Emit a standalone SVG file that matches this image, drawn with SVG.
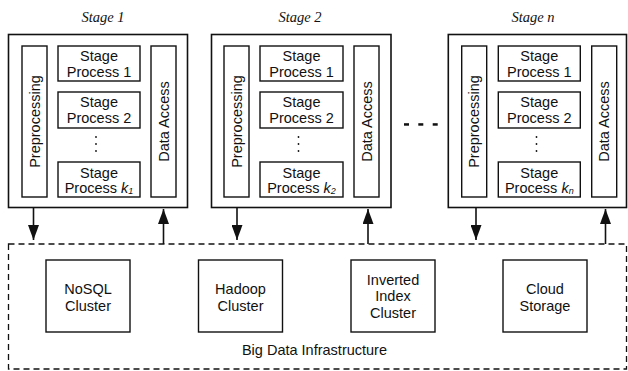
<svg xmlns="http://www.w3.org/2000/svg" width="628" height="371" viewBox="0 0 628 371">
<style>
.stage{fill:#fff;stroke:#111;stroke-width:1.6}
.box{fill:#fff;stroke:#111;stroke-width:1.4}
.t{font-family:"Liberation Sans",Arial,sans-serif;font-size:14.5px;fill:#111;text-anchor:middle}
.lbl{font-family:"Liberation Serif","Times New Roman",serif;font-style:italic;font-size:14.5px;fill:#111;text-anchor:middle}
.k{font-style:italic}
.sub{font-style:italic;font-size:9px}
.con{stroke:#111;stroke-width:1.6;fill:none}
.dot{fill:#111}
</style>
<defs>
<marker id="ah" markerWidth="15" markerHeight="11" refX="15" refY="5.5" orient="auto" markerUnits="userSpaceOnUse" viewBox="0 0 15 11">
<path d="M0,0 L15,5.5 L0,11 Z" fill="#111"/>
</marker>
</defs>

<text class="lbl" x="103" y="22">Stage 1</text>
<text class="lbl" x="300" y="22">Stage 2</text>
<text class="lbl" x="533" y="22">Stage n</text>

<g id="stage1">
<rect class="stage" x="8.5" y="34.5" width="179" height="173"/>
<g id="stage1-pre"><rect class="box" x="22" y="46" width="25" height="151"/>
<text class="t" transform="translate(34.5,121.5) rotate(-90)" y="5">Preprocessing</text></g>
<g id="stage1-p1"><rect class="box" x="58" y="46" width="82" height="35"/>
<text class="t" x="99" y="61">Stage</text><text class="t" x="99" y="76.5">Process 1</text></g>
<g id="stage1-p2"><rect class="box" x="58" y="92" width="82" height="36"/>
<text class="t" x="99" y="107">Stage</text><text class="t" x="99" y="122.5">Process 2</text></g>
<circle class="dot" cx="96" cy="137" r="0.9"/><circle class="dot" cx="96" cy="144" r="0.9"/><circle class="dot" cx="96" cy="151" r="0.9"/>
<g id="stage1-pk"><rect class="box" x="58" y="162" width="82" height="35"/>
<text class="t" x="99" y="177.5">Stage</text><text class="t" x="99" y="193">Process <tspan class="k">k</tspan><tspan class="sub" dy="1">1</tspan></text></g>
<g id="stage1-da"><rect class="box" x="151" y="46" width="25" height="151"/>
<text class="t" transform="translate(163.5,121.5) rotate(-90)" y="5">Data Access</text></g>
</g>

<g id="stage2">
<rect class="stage" x="211.5" y="34.5" width="179.5" height="173"/>
<g id="stage2-pre"><rect class="box" x="224" y="46" width="25" height="151"/>
<text class="t" transform="translate(236.5,121.5) rotate(-90)" y="5">Preprocessing</text></g>
<g id="stage2-p1"><rect class="box" x="260" y="46" width="83" height="35"/>
<text class="t" x="301.5" y="61">Stage</text><text class="t" x="301.5" y="76.5">Process 1</text></g>
<g id="stage2-p2"><rect class="box" x="260" y="92" width="83" height="36"/>
<text class="t" x="301.5" y="107">Stage</text><text class="t" x="301.5" y="122.5">Process 2</text></g>
<circle class="dot" cx="298.5" cy="137" r="0.9"/><circle class="dot" cx="298.5" cy="144" r="0.9"/><circle class="dot" cx="298.5" cy="151" r="0.9"/>
<g id="stage2-pk"><rect class="box" x="260" y="162" width="83" height="35"/>
<text class="t" x="301.5" y="177.5">Stage</text><text class="t" x="301.5" y="193">Process <tspan class="k">k</tspan><tspan class="sub" dy="1">2</tspan></text></g>
<g id="stage2-da"><rect class="box" x="354" y="46" width="25" height="151"/>
<text class="t" transform="translate(366.5,121.5) rotate(-90)" y="5">Data Access</text></g>
</g>

<g id="ellipsis">
<rect class="dot" x="404" y="123.2" width="5" height="2.5"/>
<rect class="dot" x="418.3" y="123.2" width="5" height="2.5"/>
<rect class="dot" x="432.7" y="123.2" width="5" height="2.5"/>
</g>

<g id="stagen">
<rect class="stage" x="448.3" y="34.5" width="178.2" height="173"/>
<g id="stagen-pre"><rect class="box" x="461.7" y="46" width="25" height="151"/>
<text class="t" transform="translate(474.2,121.5) rotate(-90)" y="5">Preprocessing</text></g>
<g id="stagen-p1"><rect class="box" x="498.3" y="46" width="82" height="35"/>
<text class="t" x="539.3" y="61">Stage</text><text class="t" x="539.3" y="76.5">Process 1</text></g>
<g id="stagen-p2"><rect class="box" x="498.3" y="92" width="82" height="36"/>
<text class="t" x="539.3" y="107">Stage</text><text class="t" x="539.3" y="122.5">Process 2</text></g>
<circle class="dot" cx="536.5" cy="137" r="0.9"/><circle class="dot" cx="536.5" cy="144" r="0.9"/><circle class="dot" cx="536.5" cy="151" r="0.9"/>
<g id="stagen-pk"><rect class="box" x="498.3" y="162" width="82" height="35"/>
<text class="t" x="539.3" y="177.5">Stage</text><text class="t" x="539.3" y="193">Process <tspan class="k">k</tspan><tspan class="sub" dy="1">n</tspan></text></g>
<g id="stagen-da"><rect class="box" x="591.7" y="46" width="25" height="151"/>
<text class="t" transform="translate(604.2,121.5) rotate(-90)" y="5">Data Access</text></g>
</g>

<g id="infra">
<rect x="8.5" y="244" width="618" height="125" fill="none" stroke="#111" stroke-width="1.3" stroke-dasharray="6,4"/>
<g id="nosql"><rect class="box" x="46" y="260" width="84" height="72"/>
<text class="t" x="88" y="294">NoSQL</text><text class="t" x="88" y="310.5">Cluster</text></g>
<g id="hadoop"><rect class="box" x="198.5" y="260" width="84" height="72"/>
<text class="t" x="240.5" y="294">Hadoop</text><text class="t" x="240.5" y="310.5">Cluster</text></g>
<g id="inverted"><rect class="box" x="351" y="260" width="84" height="72"/>
<text class="t" x="393" y="284.5">Inverted</text><text class="t" x="393" y="301">Index</text><text class="t" x="393" y="317.5">Cluster</text></g>
<g id="cloud"><rect class="box" x="503" y="260" width="84" height="72"/>
<text class="t" x="545" y="294">Cloud</text><text class="t" x="545" y="310.5">Storage</text></g>
<text class="t" x="314.5" y="355">Big Data Infrastructure</text>
</g>

<g id="connectors">
<line class="con" x1="33.5" y1="208" x2="33.5" y2="240" marker-end="url(#ah)"/>
<line class="con" x1="163.5" y1="244" x2="163.5" y2="209" marker-end="url(#ah)"/>
<line class="con" x1="237" y1="208" x2="237" y2="240" marker-end="url(#ah)"/>
<line class="con" x1="368" y1="244" x2="368" y2="209" marker-end="url(#ah)"/>
<line class="con" x1="476" y1="208" x2="476" y2="240" marker-end="url(#ah)"/>
<line class="con" x1="605.5" y1="244" x2="605.5" y2="209" marker-end="url(#ah)"/>
</g>
</svg>
